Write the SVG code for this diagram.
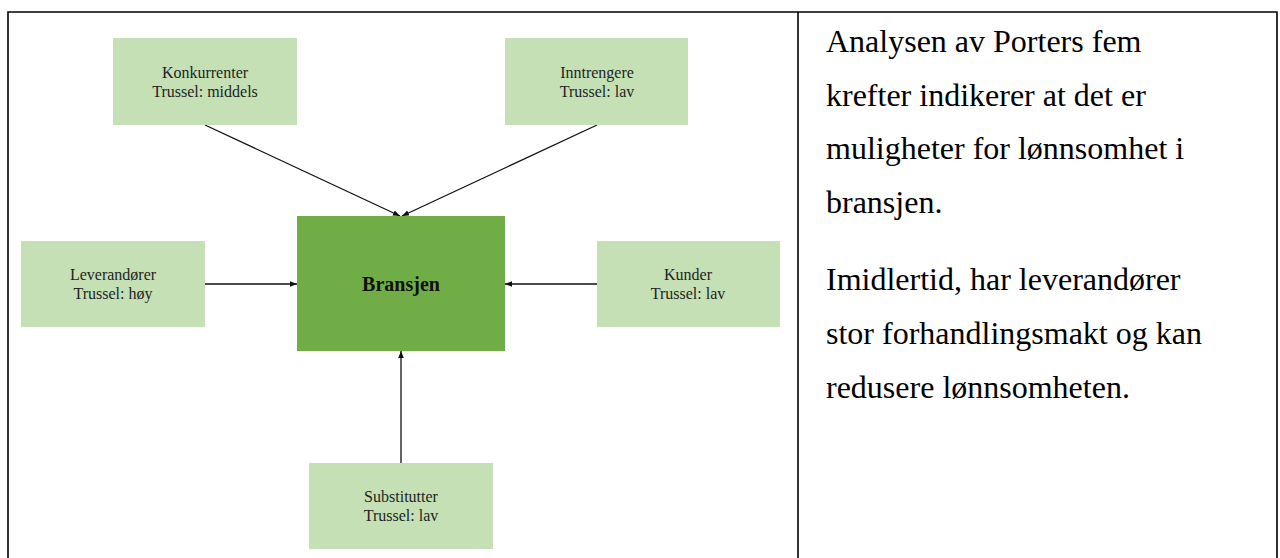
<svg xmlns="http://www.w3.org/2000/svg" width="1280" height="558" viewBox="0 0 1280 558">
<style>
.box{fill:#C5E0B4;}
.core{fill:#70AD47;}
.lbl{font-family:"Liberation Serif","Times New Roman",serif;font-size:16px;fill:#1f1f1f;text-anchor:middle;}
.core-lbl{font-family:"Liberation Serif","Times New Roman",serif;font-size:20px;font-weight:bold;fill:#111;text-anchor:middle;}
.conn{stroke:#111;stroke-width:1.3;fill:none;marker-end:url(#ah);}
.frame{stroke:#000;stroke-width:1.6;fill:none;}
.body{font-family:"Liberation Serif","Times New Roman",serif;font-size:32px;fill:#000;}
</style>
<defs>
<marker id="ah" viewBox="0 0 10 10" refX="10" refY="5" markerWidth="7" markerHeight="7" markerUnits="userSpaceOnUse" orient="auto">
<path d="M0,1 L10,5 L0,9 z" fill="#111"/>
</marker>
</defs>
<rect x="0" y="0" width="1280" height="558" fill="#fff"/>
<g id="frame">
<path class="frame" d="M8,558 L8,12 L1277,12 L1277,558"/>
<path class="frame" d="M798,12 L798,558"/>
</g>
<g id="connectors">
<line class="conn" x1="205" y1="125" x2="400" y2="216"/>
<line class="conn" x1="597" y1="125" x2="402" y2="216"/>
<line class="conn" x1="205" y1="284" x2="297" y2="284"/>
<line class="conn" x1="597" y1="284" x2="505" y2="284"/>
<line class="conn" x1="401" y1="463" x2="401" y2="351"/>
</g>
<g id="konkurrenter">
<rect class="box" x="113" y="38" width="184" height="87"/>
<text class="lbl" x="205" y="78">Konkurrenter</text>
<text class="lbl" x="205" y="97">Trussel: middels</text>
</g>
<g id="inntrengere">
<rect class="box" x="505" y="38" width="183" height="87"/>
<text class="lbl" x="597" y="78">Inntrengere</text>
<text class="lbl" x="597" y="97">Trussel: lav</text>
</g>
<g id="leverandorer">
<rect class="box" x="21" y="241" width="184" height="86"/>
<text class="lbl" x="113" y="280">Leverandører</text>
<text class="lbl" x="113" y="299">Trussel: høy</text>
</g>
<g id="bransjen">
<rect class="core" x="297" y="216" width="208" height="135"/>
<text class="core-lbl" x="401" y="291">Bransjen</text>
</g>
<g id="kunder">
<rect class="box" x="597" y="241" width="183" height="86"/>
<text class="lbl" x="688" y="280">Kunder</text>
<text class="lbl" x="688" y="299">Trussel: lav</text>
</g>
<g id="substitutter">
<rect class="box" x="309" y="463" width="184" height="86"/>
<text class="lbl" x="401" y="502">Substitutter</text>
<text class="lbl" x="401" y="521">Trussel: lav</text>
</g>
<g id="text-panel">
<text class="body" x="826" y="52">Analysen av Porters fem</text>
<text class="body" x="826" y="106">krefter indikerer at det er</text>
<text class="body" x="826" y="159">muligheter for lønnsomhet i</text>
<text class="body" x="826" y="213">bransjen.</text>
<text class="body" x="826" y="290">Imidlertid, har leverandører</text>
<text class="body" x="826" y="344">stor forhandlingsmakt og kan</text>
<text class="body" x="826" y="398">redusere lønnsomheten.</text>
</g>
</svg>
